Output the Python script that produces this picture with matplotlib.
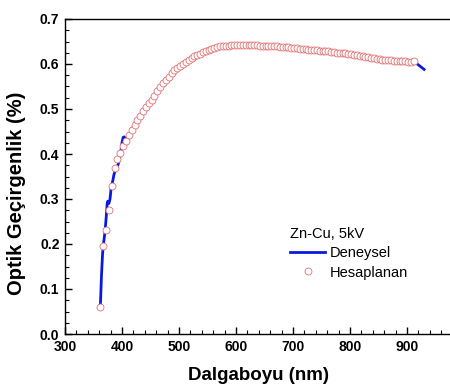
import matplotlib
matplotlib.use('Agg')
import numpy as np
import matplotlib.pyplot as plt
from matplotlib.ticker import MultipleLocator, FixedLocator

plt.rcParams['font.family'] = ['Liberation Sans', 'DejaVu Sans']

# Deneysel (measured) curve
exp_wl = [362, 364, 366, 368, 370, 372, 374, 375, 377, 379, 381, 383, 386, 389, 392,
          395, 398, 400, 402, 404, 406, 408, 410, 420, 440, 460, 480, 500, 520, 540,
          560, 580, 600, 620, 640, 660, 680, 700, 720, 740, 760, 780, 800, 820, 840,
          850, 856, 862, 880, 900, 912, 916, 920, 925, 930]
exp_val = [0.060, 0.130, 0.180, 0.205, 0.225, 0.255, 0.290, 0.295, 0.290, 0.300, 0.325,
           0.335, 0.355, 0.365, 0.372, 0.385, 0.405, 0.425, 0.437, 0.438, 0.430, 0.428,
           0.437, 0.460, 0.502, 0.536, 0.570, 0.594, 0.612, 0.626, 0.635, 0.640, 0.642,
           0.642, 0.641, 0.639, 0.638, 0.635, 0.633, 0.631, 0.628, 0.625, 0.622, 0.617,
           0.613, 0.611, 0.603, 0.609, 0.607, 0.605, 0.605, 0.602, 0.598, 0.593, 0.588]

# Hesaplanan (calculated) points, every 5 nm from 362 nm
calc_wl = list(range(362, 913, 5))
calc_val = [0.059, 0.195, 0.232, 0.275, 0.330, 0.370, 0.388, 0.402, 0.418, 0.430,
            0.442, 0.454, 0.465, 0.475, 0.485, 0.495, 0.504, 0.513, 0.521, 0.530,
            0.539, 0.548, 0.557, 0.565, 0.572, 0.579, 0.586, 0.591, 0.596, 0.601,
            0.605, 0.609, 0.613, 0.617, 0.620, 0.623, 0.627, 0.629, 0.632, 0.634,
            0.636, 0.637, 0.639, 0.640, 0.641, 0.641, 0.642, 0.642, 0.642, 0.642,
            0.642, 0.642, 0.642, 0.642, 0.642, 0.642, 0.641, 0.641, 0.641, 0.640,
            0.640, 0.639, 0.639, 0.638, 0.638, 0.637, 0.637, 0.636, 0.635, 0.635,
            0.634, 0.634, 0.633, 0.632, 0.632, 0.631, 0.631, 0.630, 0.629, 0.628,
            0.628, 0.627, 0.626, 0.625, 0.625, 0.624, 0.624, 0.623, 0.622, 0.621,
            0.619, 0.618, 0.617, 0.616, 0.615, 0.614, 0.613, 0.612, 0.611, 0.610,
            0.609, 0.608, 0.608, 0.607, 0.607, 0.606, 0.606, 0.606, 0.605, 0.605,
            0.606]

x_ticks = [300, 400, 500, 600, 700, 800, 900]

fig = plt.figure(figsize=(4.5, 3.89), dpi=100)
ax = fig.add_axes([65 / 450, 55 / 389, 399 / 450, 315 / 389])

ax.plot(exp_wl, exp_val, color='#0a1adc', lw=2.0, label='Deneysel', zorder=2)
ax.plot(calc_wl, calc_val, ls='none', marker='o', ms=5, mfc='white', mec='#e07070',
        mew=0.6, label='Hesaplanan', zorder=3)

ax.set_xlim(300, 1000)
ax.set_ylim(0, 0.7)
ax.xaxis.set_major_locator(FixedLocator(x_ticks))
ax.xaxis.set_minor_locator(MultipleLocator(20))
ax.yaxis.set_major_locator(MultipleLocator(0.1))
ax.yaxis.set_minor_locator(MultipleLocator(0.025))
ax.yaxis.set_major_formatter(plt.FormatStrFormatter('%.1f'))
ax.tick_params(which='both', direction='in', top=False, right=False)
ax.tick_params(which='major', length=5, width=1, labelsize=10, pad=4)
ax.tick_params(which='minor', length=3, width=0.8)
for lab in ax.get_xticklabels() + ax.get_yticklabels():
    lab.set_fontweight('bold')
for s in ax.spines.values():
    s.set_linewidth(1.0)

fig.text(259 / 450, 1 - 376 / 389, 'Dalgaboyu (nm)', ha='center', va='center',
         fontsize=13.5, fontweight='bold')
fig.text(17 / 450, 1 - 193 / 389, 'Optik Geçirgenlik (%)', ha='center', va='center',
         rotation=90, fontsize=14.5, fontweight='bold')

leg = ax.legend(loc='upper left', bbox_to_anchor=((283 - 65) / 399, (334 - 220) / 315),
                frameon=False, title='Zn-Cu, 5kV', fontsize=10.5, title_fontsize=10.5,
                handlelength=2.4, handletextpad=0.3, labelspacing=0.35, borderpad=0)
leg._legend_box.align = 'left'

fig.savefig('out.png', dpi=100)
